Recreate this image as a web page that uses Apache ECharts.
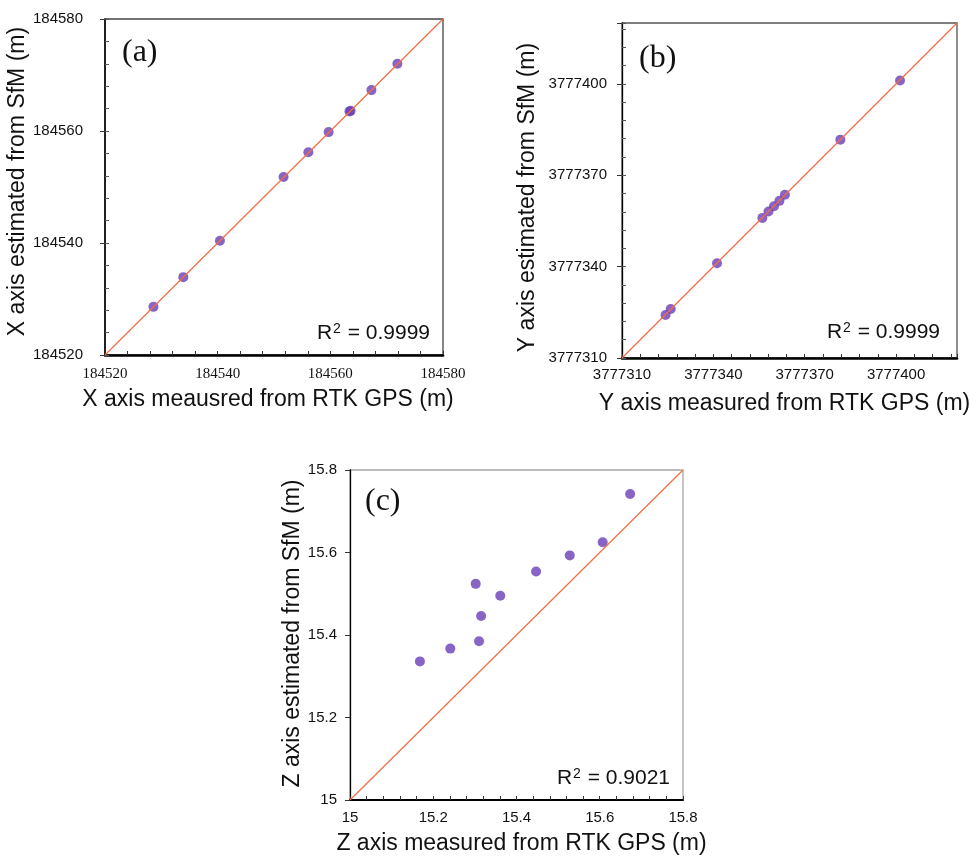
<!DOCTYPE html>
<html>
<head>
<meta charset="utf-8">
<script src="https://cdn.jsdelivr.net/npm/echarts@6/dist/echarts.min.js"></script>
<style>
  html, body { margin: 0; padding: 0; background: #fff; }
  #chart { width: 976px; height: 860px; }
</style>
</head>
<body>
<div id="chart"></div>
<script>
// Ground control points: RTK GPS measurement vs SfM estimate, per coordinate axis
const gpsX = [184528.6, 184533.9, 184540.4, 184551.7, 184556.1, 184559.7, 184563.4, 184563.6, 184567.3, 184571.9];
const sfmX = [184528.6, 184533.9, 184540.4, 184551.8, 184556.2, 184559.8, 184563.5, 184563.6, 184567.3, 184572.0];

const gpsY = [3777324.3, 3777326.0, 3777341.2, 3777356.1, 3777358.1, 3777359.9, 3777361.7, 3777363.5, 3777381.7, 3777401.3];
const sfmY = [3777324.1, 3777326.1, 3777341.1, 3777356.0, 3777358.1, 3777359.8, 3777361.6, 3777363.6, 3777381.7, 3777401.1];

const gpsZ = [15.168, 15.241, 15.310, 15.315, 15.302, 15.361, 15.447, 15.528, 15.607, 15.673];
const sfmZ = [15.336, 15.367, 15.385, 15.446, 15.524, 15.495, 15.554, 15.593, 15.625, 15.742];

// Axis ranges and labelled tick values
const rangeX = [184520, 184580];
const ticksX = [184520, 184540, 184560, 184580];
const rangeY = [3777310, 3777420];
const ticksY = [3777310, 3777340, 3777370, 3777400];
const rangeZ = [15, 15.8];
const ticksZ = [15, 15.2, 15.4, 15.6, 15.8];

const r2Values = ['0.9999', '0.9999', '0.9021'];
const panelTags = ['(a)', '(b)', '(c)'];
const xTitles = ['X axis meausred from RTK GPS (m)', 'Y axis measured from RTK GPS (m)', 'Z axis measured from RTK GPS (m)'];
const yTitles = ['X axis estimated from SfM (m)', 'Y axis estimated from SfM (m)', 'Z axis estimated from SfM (m)'];

const SANS = '"Liberation Sans", Arial, sans-serif';
const NARROW = '"Liberation Sans Narrow", "Liberation Sans", Arial, sans-serif';
const SERIF = '"Liberation Serif", "Times New Roman", serif';
const DOT = '#6a3fb6';
const FIT = '#f36c45';

function pairs(xs, ys) { return xs.map((v, i) => [v, ys[i]]); }
function isMajor(v, ticks) { return ticks.some(t => Math.abs(t - v) < 1e-6); }

const panels = [
  { grid: { left: 105, top: 19, width: 338, height: 336 }, range: rangeX, ticks: ticksX, major: 20, minor: 4,
    data: pairs(gpsX, sfmX), frame: '#444', bottomW: 2.7, leftW: 1.5,
    xFont: { fontFamily: SERIF, fontSize: 15, margin: 12 }, yFont: { fontFamily: NARROW, fontSize: 15, margin: 22 },
    xGap: 33, xPad: [0, 12, 0, 0], yGap: 71, yPad: [0, 0, 0, 11], yMinor: true },
  { grid: { left: 622, top: 23, width: 335, height: 335 }, range: rangeY, ticks: ticksY, major: 30, minor: 6,
    data: pairs(gpsY, sfmY), frame: '#555', bottomW: 2.7, leftW: 1.3,
    xFont: { fontFamily: SANS, fontSize: 15, margin: 9 }, yFont: { fontFamily: SANS, fontSize: 15, margin: 15 },
    xGap: 34, xPad: [0, 10, 0, 0], yGap: 83, yPad: [0, 14, 0, 0], yMinor: true },
  { grid: { left: 350, top: 470, width: 333, height: 330 }, range: rangeZ, ticks: ticksZ, major: 0.2, minor: 0.04,
    data: pairs(gpsZ, sfmZ), frame: '#a8a8a8', bottomW: 2, leftW: 1.3,
    xFont: { fontFamily: SANS, fontSize: 15, margin: 10 }, yFont: { fontFamily: SANS, fontSize: 15, margin: 13 },
    xGap: 32, xPad: [0, 0, 0, 10], yGap: 45, yPad: [0, 0, 0, 3], yMinor: false }
];

const grid = [], xAxis = [], yAxis = [], series = [], title = [];

panels.forEach((p, i) => {
  grid.push(Object.assign({ show: true, borderColor: p.frame, borderWidth: 1.3 }, p.grid));

  // bottom axis: ticks every minor step, pointing inward; labels on major values only
  xAxis.push({
    type: 'value', gridIndex: i, position: 'bottom', min: p.range[0], max: p.range[1], interval: p.minor,
    splitLine: { show: false },
    axisLine: { show: true, onZero: false, lineStyle: { color: '#000', width: p.bottomW } },
    axisTick: { show: true, inside: true, length: 4, lineStyle: { color: '#333', width: 1 } },
    axisLabel: { show: true, color: '#111', fontFamily: p.xFont.fontFamily,
      fontSize: p.xFont.fontSize, margin: p.xFont.margin,
      formatter: v => isMajor(v, p.ticks) ? String(+v.toFixed(6)) : '' },
    name: xTitles[i], nameLocation: 'middle', nameGap: p.xGap,
    nameTextStyle: { fontFamily: SANS, fontSize: 23, color: '#111', padding: p.xPad }
  });

  // left axis: labels and outward major ticks
  yAxis.push({
    type: 'value', gridIndex: i, position: 'left', min: p.range[0], max: p.range[1], interval: p.major,
    splitLine: { show: false },
    axisLine: { show: true, onZero: false, lineStyle: { color: '#000', width: p.leftW } },
    axisTick: { show: true, inside: false, length: 5, lineStyle: { color: '#333', width: 1 } },
    axisLabel: { show: true, color: '#111', fontFamily: p.yFont.fontFamily,
      fontSize: p.yFont.fontSize, margin: p.yFont.margin,
      formatter: v => isMajor(v, p.ticks) ? String(+v.toFixed(6)) : '' },
    name: yTitles[i], nameLocation: 'middle', nameGap: p.yGap, nameRotate: 90,
    nameTextStyle: { fontFamily: SANS, fontSize: 23, color: '#111', padding: p.yPad }
  });
  // left axis companion: inward minor ticks only
  yAxis.push({
    type: 'value', gridIndex: i, position: 'left', offset: 0, min: p.range[0], max: p.range[1], interval: p.minor,
    splitLine: { show: false }, axisLine: { show: false, onZero: false }, axisLabel: { show: false },
    axisTick: { show: p.yMinor, inside: true, length: 4 }
  });

  series.push({
    type: 'scatter', xAxisIndex: i, yAxisIndex: i * 2, data: p.data, symbolSize: 10, z: 2,
    itemStyle: { color: DOT }
  });
  // 1:1 reference line across the plotted range
  series.push({
    type: 'line', xAxisIndex: i, yAxisIndex: i * 2, data: [[p.range[0], p.range[0]], [p.range[1], p.range[1]]],
    symbol: 'none', z: 3, lineStyle: { color: FIT, width: 1.2 }
  });
});

// panel tags and coefficient of determination
const tagPos = [{ left: 122, top: 37 }, { left: 639, top: 43 }, { left: 365, top: 486 }];
const r2Pos = [{ right: 546, top: 320 }, { right: 36, top: 319 }, { right: 306, top: 765 }];
panelTags.forEach((t, i) => {
  title.push(Object.assign({ text: t, padding: 0,
    textStyle: { fontFamily: SERIF, fontSize: 32, fontWeight: 'normal', color: '#111' } }, tagPos[i]));
  title.push(Object.assign({ text: 'R{sup|2} = ' + r2Values[i], padding: 0,
    textStyle: { fontFamily: SANS, fontSize: 21, fontWeight: 'normal', color: '#111', lineHeight: 26,
      rich: { sup: { fontFamily: SANS, fontSize: 14, verticalAlign: 'top', lineHeight: 14, padding: [2, 1, 0, 1], color: '#111' } } } }, r2Pos[i]));
});

const chart = echarts.init(document.getElementById('chart'));
chart.setOption({ animation: false, title, grid, xAxis, yAxis, series });
</script>
</body>
</html>
